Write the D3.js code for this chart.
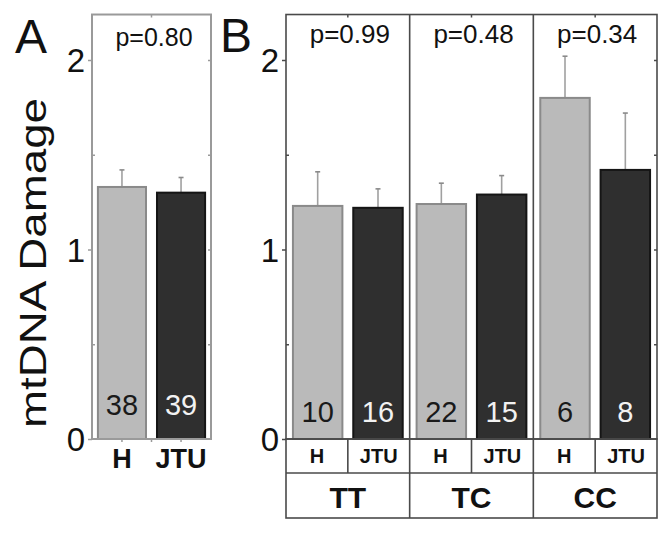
<!DOCTYPE html>
<html><head><meta charset="utf-8">
<script src="https://cdn.jsdelivr.net/npm/d3@7"></script>
<style>html,body{margin:0;padding:0;background:#fff}svg{display:block}text{font-family:"Liberation Sans",Arial,sans-serif}</style>
</head><body><svg id="c" width="671" height="534"></svg>
<script>
// ---- data ----
const groupsA = ["H", "JTU"];
const meansA = [1.33, 1.30];
const errA = [0.09, 0.08];
const nA = [38, 39];
const pA = "p=0.80";

const genotypes = ["TT", "TC", "CC"];
const subgroups = ["H", "JTU"];
const meansH = [1.23, 1.24, 1.80];
const errH = [0.18, 0.11, 0.22];
const nH = [10, 22, 6];
const meansJ = [1.22, 1.29, 1.42];
const errJ = [0.10, 0.10, 0.30];
const nJ = [16, 15, 8];
const pB = ["p=0.99", "p=0.48", "p=0.34"];

const yTicks = [0, 1, 2];
const yMinor = [0.5, 1.5];

// ---- layout ----
const svg = d3.select("#c");
const y = d3.scaleLinear().domain([0, 2]).range([439, 60]);
const yTop = y(2.24);
const LIGHT = "#bababa", LIGHT_S = "#8a8a8a", DARK = "#2f2f2f", DARK_S = "#151515";
const fillOf = g => g === "H" ? LIGHT : DARK;
const strokeOf = g => g === "H" ? LIGHT_S : DARK_S;
const txtOf = g => g === "H" ? "#1a1a1a" : "#f2f2f2";

function yAxes(g, x0, x1, col) {
  const ax = g.append("g").attr("transform", `translate(${x0},0)`)
    .call(d3.axisLeft(y).tickValues(yTicks).tickSize(4).tickPadding(3).tickFormat(d3.format("d")));
  ax.select(".domain").remove();
  ax.selectAll("line").attr("stroke", col).attr("stroke-width", 1.5);
  ax.selectAll("text").attr("font-size", 33).attr("fill", "#111").attr("dy", "0.36em");
  const mi = g.append("g").attr("transform", `translate(${x0},0)`)
    .call(d3.axisRight(y).tickValues(yMinor).tickSize(3).tickFormat(""));
  mi.select(".domain").remove();
  mi.selectAll("line").attr("stroke", col).attr("stroke-width", 1.5);
  const ra = g.append("g").attr("transform", `translate(${x1},0)`)
    .call(d3.axisLeft(y).tickValues(yMinor.concat([1, 2])).tickSize(3).tickFormat(""));
  ra.select(".domain").remove();
  ra.selectAll("line").attr("stroke", col).attr("stroke-width", 1.5);
}

function bars(g, data) {
  const eb = g.selectAll(".eb").data(data).join("g");
  eb.append("line").attr("x1", d => d.x + d.w / 2).attr("x2", d => d.x + d.w / 2)
    .attr("y1", d => y(d.mean)).attr("y2", d => y(d.mean + d.err))
    .attr("stroke", "#a0a0a0").attr("stroke-width", 1.6);
  eb.append("line").attr("x1", d => d.x + d.w / 2 - 2.5).attr("x2", d => d.x + d.w / 2 + 2.5)
    .attr("y1", d => y(d.mean + d.err)).attr("y2", d => y(d.mean + d.err))
    .attr("stroke", "#8a8a8a").attr("stroke-width", 1.6);
  g.selectAll(".bar").data(data).join("rect")
    .attr("x", d => d.x).attr("width", d => d.w)
    .attr("y", d => y(d.mean)).attr("height", d => y(0) - y(d.mean))
    .attr("fill", d => fillOf(d.g)).attr("stroke", d => strokeOf(d.g)).attr("stroke-width", 2);
  g.selectAll(".n").data(data).join("text")
    .attr("x", d => d.x + d.w / 2).attr("y", d => d.base)
    .attr("text-anchor", "middle").attr("font-size", 29)
    .attr("fill", d => txtOf(d.g)).text(d => d.n);
}

// ---- panel A ----
const gA = svg.append("g");
const xA = d3.scaleBand().domain(groupsA).range([92, 211]).paddingInner(0.186).paddingOuter(0.1);
const dataA = groupsA.map((g, i) => ({ g, mean: meansA[i], err: errA[i], n: nA[i], x: xA(g), w: xA.bandwidth(), base: 415 }));
bars(gA, dataA);
gA.append("rect").attr("x", 92).attr("y", yTop).attr("width", 211 - 92).attr("height", y(0) - yTop)
  .attr("fill", "none").attr("stroke", "#9a9a9a").attr("stroke-width", 2);
yAxes(gA, 92, 211, "#9a9a9a");
[xA("H") + xA.bandwidth() / 2, (92 + 211) / 2, xA("JTU") + xA.bandwidth() / 2].forEach(cx => {
  gA.append("line").attr("x1", cx).attr("x2", cx).attr("y1", y(0)).attr("y2", y(0) + 3).attr("stroke", "#9a9a9a").attr("stroke-width", 1.5);
});
gA.append("line").attr("x1", 151.5).attr("x2", 151.5).attr("y1", yTop).attr("y2", yTop + 3).attr("stroke", "#9a9a9a").attr("stroke-width", 1.5);
gA.selectAll(".xl").data(groupsA).join("text")
  .attr("x", d => xA(d) + xA.bandwidth() / 2).attr("y", 468)
  .attr("text-anchor", "middle").attr("font-size", 27).attr("font-weight", "bold").attr("fill", "#111").text(d => d);
gA.append("text").attr("x", 154).attr("y", 46).attr("text-anchor", "middle").attr("font-size", 25).attr("fill", "#111").text(pA);
svg.append("text").attr("x", 15).attr("y", 53).attr("font-size", 48).attr("fill", "#111").text("A");
svg.append("text").attr("transform", "translate(46,263) rotate(-90)").attr("text-anchor", "middle")
  .attr("font-size", 37).attr("fill", "#111").attr("textLength", 330).attr("lengthAdjust", "spacingAndGlyphs").text("mtDNA Damage");

// ---- panel B ----
const gB = svg.append("g");
const xB = d3.scaleBand().domain(genotypes).range([286, 657]).padding(0);
const xS = d3.scaleBand().domain(subgroups).range([0, xB.bandwidth()]).paddingInner(0.18).paddingOuter(0.115);
const dataB = [];
genotypes.forEach((gt, i) => {
  dataB.push({ g: "H", mean: meansH[i], err: errH[i], n: nH[i], x: xB(gt) + xS("H"), w: xS.bandwidth(), base: 422 });
  dataB.push({ g: "JTU", mean: meansJ[i], err: errJ[i], n: nJ[i], x: xB(gt) + xS("JTU"), w: xS.bandwidth(), base: 422 });
});
bars(gB, dataB);
const FB = "#4a4a4a";
gB.append("rect").attr("x", 286).attr("y", yTop).attr("width", 657 - 286).attr("height", y(0) - yTop)
  .attr("fill", "none").attr("stroke", FB).attr("stroke-width", 1.6);
genotypes.slice(1).forEach(gt => {
  gB.append("line").attr("x1", xB(gt)).attr("x2", xB(gt)).attr("y1", yTop).attr("y2", 518).attr("stroke", FB).attr("stroke-width", 1.6);
});
yAxes(gB, 286, 657, FB);
genotypes.forEach(gt => {
  const cx = xB(gt) + xB.bandwidth() / 2;
  gB.append("line").attr("x1", cx).attr("x2", cx).attr("y1", yTop).attr("y2", yTop + 3).attr("stroke", FB).attr("stroke-width", 1.5);
});
// table
const r1 = y(0), r2 = 473, r3 = 518;
gB.append("rect").attr("x", 286).attr("y", r1).attr("width", 657 - 286).attr("height", r3 - r1)
  .attr("fill", "none").attr("stroke", FB).attr("stroke-width", 1.6);
gB.append("line").attr("x1", 286).attr("x2", 657).attr("y1", r2).attr("y2", r2).attr("stroke", FB).attr("stroke-width", 1.6);
genotypes.forEach(gt => {
  const mx = xB(gt) + xB.bandwidth() / 2;
  gB.append("line").attr("x1", mx).attr("x2", mx).attr("y1", r1).attr("y2", r2).attr("stroke", FB).attr("stroke-width", 1.6);
  subgroups.forEach(s => {
    gB.append("text").attr("x", xB(gt) + (s === "H" ? 0.25 : 0.75) * xB.bandwidth()).attr("y", 463)
      .attr("text-anchor", "middle").attr("font-size", 20).attr("font-weight", "bold").attr("fill", "#111").text(s);
  });
});
gB.selectAll(".gl").data(genotypes).join("text")
  .attr("x", d => xB(d) + xB.bandwidth() / 2).attr("y", 508)
  .attr("text-anchor", "middle").attr("font-size", 30).attr("font-weight", "bold").attr("fill", "#111").text(d => d);
gB.selectAll(".pl").data(genotypes).join("text")
  .attr("x", d => xB(d) + xB.bandwidth() / 2 + 2).attr("y", 43)
  .attr("text-anchor", "middle").attr("font-size", 26).attr("fill", "#111").text((d, i) => pB[i]);
svg.append("text").attr("x", 220).attr("y", 52).attr("font-size", 48).attr("fill", "#111").text("B");
</script></body></html>
